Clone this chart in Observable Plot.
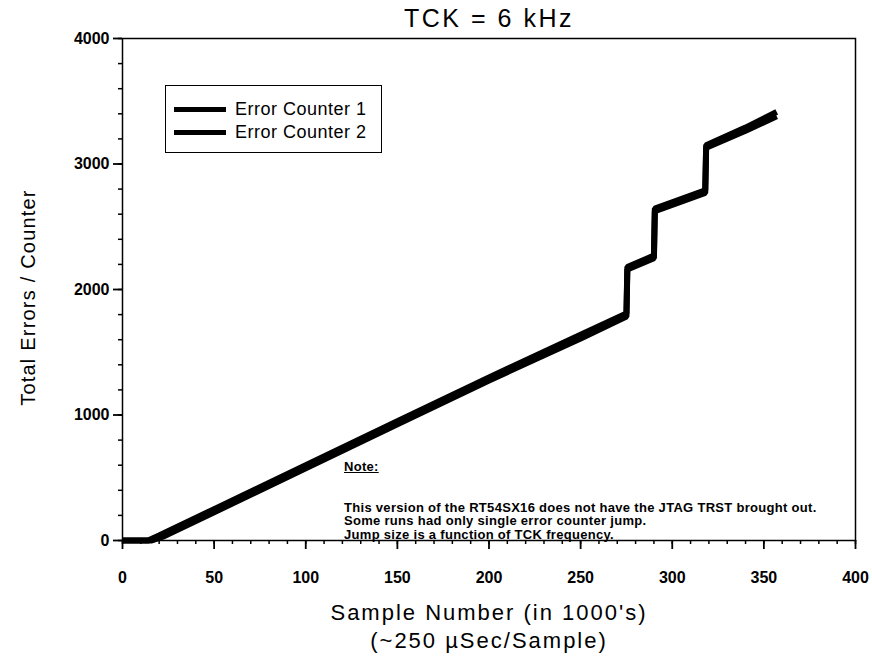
<!DOCTYPE html>
<html>
<head>
<meta charset="utf-8">
<script src="https://cdn.jsdelivr.net/npm/d3@7"></script>
<script src="https://cdn.jsdelivr.net/npm/@observablehq/plot@0.6"></script>
<style>
  html, body { margin: 0; padding: 0; background: #fff; }
  #wrap { position: relative; width: 872px; height: 667px; font-family: "Liberation Sans", Arial, sans-serif; }
  #legend { position: absolute; left: 165px; top: 85px; width: 217px; height: 68px; border: 1.5px solid #000; box-sizing: border-box; background: #fff; }
  .lg { position: absolute; left: 8px; height: 20px; font-size: 18px; letter-spacing: 0.5px; display: flex; align-items: center; white-space: nowrap; }
  .lg span.sw { display: inline-block; width: 52px; height: 5px; background: #000; margin-right: 9px; }
  #note { position: absolute; left: 344px; top: 460px; font-size: 13px; font-weight: bold; line-height: 13.5px; letter-spacing: 0.3px; color: #000; white-space: nowrap; }
  #note .h { text-decoration: underline; margin-bottom: 27px; }
</style>
</head>
<body>
<div id="wrap"></div>
<script>
const title = "TCK = 6 kHz";
const xLabel = "Sample Number (in 1000's)\n(~250 \u00b5Sec/Sample)";
const yLabel = "Total Errors / Counter";
const seriesNames = ["Error Counter 1", "Error Counter 2"];
const xTicks = [0, 50, 100, 150, 200, 250, 300, 350, 400];
const yTicks = [0, 1000, 2000, 3000, 4000];
const noteLines = [
  "This version of the RT54SX16 does not have the JTAG TRST brought out.",
  "Some runs had only single error counter jump.",
  "Jump size is a function of TCK frequency."
];

// Error Counter 1 (sample number in 1000's, total errors)
const c1x = [0, 14, 20, 50, 100, 150, 200, 250, 275, 275.5, 290, 290.5, 318, 318.5, 340, 357];
const c1y = [0, 0, 40, 250, 600, 950, 1300, 1640, 1810, 2180, 2270, 2645, 2790, 3150, 3290, 3415];
// Error Counter 2
const c2x = [0, 16, 22, 50, 100, 150, 200, 250, 275, 275.5, 290, 290.5, 318, 318.5, 340, 357];
const c2y = [0, 0, 30, 225, 575, 925, 1275, 1610, 1785, 2160, 2250, 2625, 2770, 3130, 3265, 3380];

const data = [
  ...c1x.map((x, i) => ({x, y: c1y[i], s: seriesNames[0]})),
  ...c2x.map((x, i) => ({x, y: c2y[i], s: seriesNames[1]}))
];

const font = "Liberation Sans, Arial, sans-serif";

const chart = Plot.plot({
  width: 872,
  height: 667,
  marginLeft: 122,
  marginRight: 17,
  marginTop: 38,
  marginBottom: 127,
  style: {fontFamily: font, background: "#fff", color: "#000"},
  x: {domain: [0, 400]},
  y: {domain: [0, 4000]},
  marks: [
    Plot.frame({stroke: "#000", strokeWidth: 1.5}),
    Plot.axisX({ticks: d3.range(0, 401, 10), tickSize: 4, text: null, label: null, strokeWidth: 1.5}),
    Plot.axisX({ticks: xTicks, tickSize: 9, tickPadding: 22, label: null, fontSize: 16, fontWeight: "bold", strokeWidth: 1.8, tickFormat: d => String(d)}),
    Plot.axisY({ticks: d3.range(0, 4001, 200), tickSize: 4, text: null, label: null, strokeWidth: 1.5}),
    Plot.axisY({ticks: yTicks, tickSize: 9, tickPadding: 4, label: null, fontSize: 16, fontWeight: "bold", strokeWidth: 1.8, tickFormat: d => String(d)}),
    Plot.line(data, {x: "x", y: "y", z: "s", stroke: "#000", strokeWidth: 6, strokeLinejoin: "miter", strokeLinecap: "butt"}),
    Plot.text([title], {frameAnchor: "top", dy: -20, fontSize: 25, lineAnchor: "middle", fill: "#000"}),
    Plot.text([xLabel], {frameAnchor: "bottom", dy: 60, lineAnchor: "top", fontSize: 22, lineHeight: 1.27, fill: "#000"}),
    Plot.text([yLabel], {frameAnchor: "left", textAnchor: "middle", dx: -94, dy: 8, rotate: -90, fontSize: 20, fill: "#000"})
  ]
});

// widen the scanned-looking label lettering
const spacing = new Map([[title, "2.5px"], [yLabel, "1.2px"]]);
d3.select(chart).selectAll("text").each(function() {
  const t = this.textContent;
  if (spacing.has(t)) this.style.letterSpacing = spacing.get(t);
});
d3.select(chart).selectAll("tspan").each(function() {
  const t = this.textContent;
  if (t.startsWith("Sample Number") || t.startsWith("(~250")) this.style.letterSpacing = "2px";
});

const wrap = document.getElementById("wrap");
wrap.appendChild(chart);

const legend = document.createElement("div");
legend.id = "legend";
seriesNames.forEach((name, i) => {
  const d = document.createElement("div");
  d.className = "lg";
  d.style.top = (13 + i * 23) + "px";
  d.innerHTML = `<span class="sw"></span><span>${name}</span>`;
  legend.appendChild(d);
});
wrap.appendChild(legend);

const note = document.createElement("div");
note.id = "note";
note.innerHTML = `<div class="h">Note:</div>` + noteLines.map(l => `<div>${l}</div>`).join("");
wrap.appendChild(note);
</script>
</body>
</html>
